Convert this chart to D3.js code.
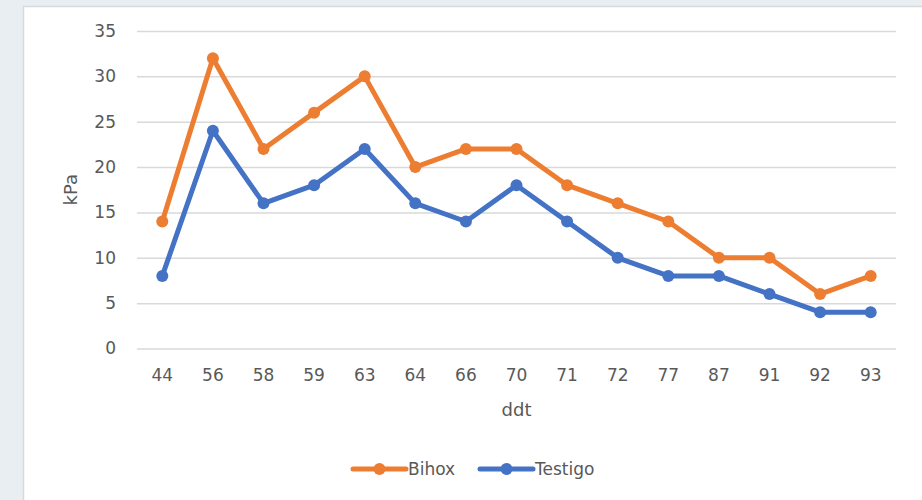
<!DOCTYPE html>
<html>
<head>
<meta charset="utf-8">
<script src="https://cdn.jsdelivr.net/npm/d3@7"></script>
<style>
  body { margin: 0; background: #e9eef2; }
  svg { display: block; }
  text { font-family: "DejaVu Sans", sans-serif; fill: #595959; }
</style>
</head>
<body>
<svg id="chart" width="922" height="500"></svg>
<script>
// chart values
var categories = ["44", "56", "58", "59", "63", "64", "66", "70", "71", "72", "77", "87", "91", "92", "93"];
var bihox   = [14, 32, 22, 26, 30, 20, 22, 22, 18, 16, 14, 10, 10, 6, 8];
var testigo = [8, 24, 16, 18, 22, 16, 14, 18, 14, 10, 8, 8, 6, 4, 4];
var yTicks = [0, 5, 10, 15, 20, 25, 30, 35];
var seriesNames = ["Bihox", "Testigo"];
var seriesColors = ["#ED7D31", "#4472C4"];

var svg = d3.select("#chart");

// white chart area over the faint page background
svg.append("rect")
	.attr("x", 23.5)
	.attr("y", 6.5)
	.attr("width", 910)
	.attr("height", 500)
	.attr("fill", "#ffffff")
	.attr("stroke", "#d9d9d9")
	.attr("stroke-width", 1.5);

var plot = { left: 137, right: 896, top: 31, bottom: 348.5 };

var x = d3.scaleBand()
	.domain(categories)
	.range([plot.left, plot.right]);

var y = d3.scaleLinear()
	.domain([0, 35])
	.range([plot.bottom, plot.top]);

// gridlines
var yAxis = d3.axisLeft(y)
	.tickValues(yTicks)
	.tickSize(-(plot.right - plot.left))
	.tickPadding(21);

var gy = svg.append("g")
	.attr("transform", "translate(" + plot.left + ",0)")
	.call(yAxis);
gy.select(".domain").remove();
gy.selectAll(".tick line").attr("stroke", "#d9d9d9").attr("stroke-width", 1.5);
gy.selectAll(".tick text").style("font-size", "17px").attr("fill", "#595959");

var xAxis = d3.axisBottom(x).tickSize(0).tickPadding(20);
var gx = svg.append("g")
	.attr("transform", "translate(0," + plot.bottom + ")")
	.call(xAxis);
gx.select(".domain").remove();
gx.selectAll(".tick text").style("font-size", "17px").attr("fill", "#595959");

// axis titles
svg.append("text")
	.attr("x", (plot.left + plot.right) / 2)
	.attr("y", 416)
	.attr("text-anchor", "middle")
	.style("font-size", "18px")
	.text("ddt");

svg.append("text")
	.attr("transform", "translate(77," + ((plot.top + plot.bottom) / 2) + ") rotate(-90)")
	.attr("text-anchor", "middle")
	.style("font-size", "18px")
	.text("kPa");

// series
var allSeries = [bihox, testigo];
var line = d3.line()
	.x(function(d, i){ return x(categories[i]) + x.bandwidth() / 2; })
	.y(function(d){ return y(d); });

for(var s = 0; s < allSeries.length; s++){
	svg.append("path")
		.datum(allSeries[s])
		.attr("d", line)
		.attr("fill", "none")
		.attr("stroke", seriesColors[s])
		.attr("stroke-width", 5)
		.attr("stroke-linejoin", "round")
		.attr("stroke-linecap", "round");

	svg.selectAll(".pt" + s)
		.data(allSeries[s])
		.enter().append("circle")
		.attr("class", "pt" + s)
		.attr("cx", function(d, i){ return x(categories[i]) + x.bandwidth() / 2; })
		.attr("cy", function(d){ return y(d); })
		.attr("r", 6)
		.attr("fill", seriesColors[s]);
}

// legend
var legendX = [353, 480];
for(var k = 0; k < seriesNames.length; k++){
	var lg = svg.append("g").attr("transform", "translate(" + legendX[k] + ",469)");
	lg.append("line")
		.attr("x1", 0).attr("x2", 53)
		.attr("y1", 0).attr("y2", 0)
		.attr("stroke", seriesColors[k])
		.attr("stroke-width", 5)
		.attr("stroke-linecap", "round");
	lg.append("circle")
		.attr("cx", 26.5).attr("cy", 0).attr("r", 6)
		.attr("fill", seriesColors[k]);
	lg.append("text")
		.attr("x", 55)
		.attr("y", 6)
		.style("font-size", "17px")
		.text(seriesNames[k]);
}
</script>
</body>
</html>
